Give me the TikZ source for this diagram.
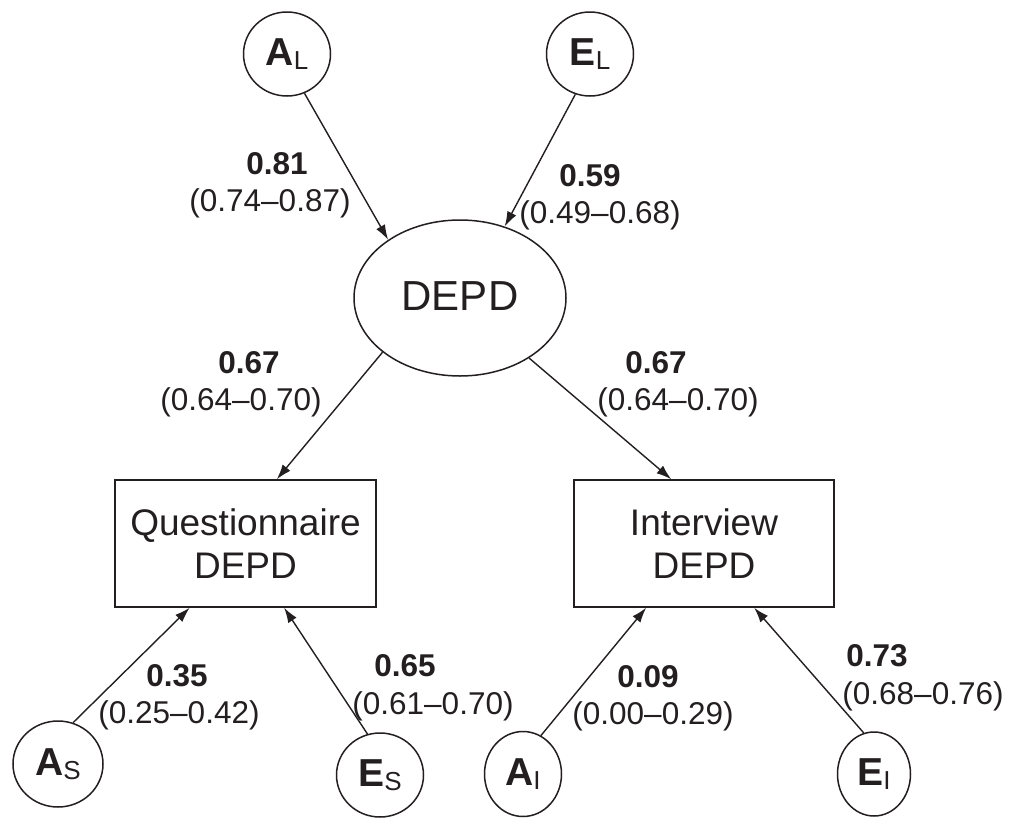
\documentclass[tikz,border=0pt]{standalone}
\usepackage{fontspec}
\setmainfont{Liberation Sans}
\usetikzlibrary{shapes.geometric,arrows.meta}
\definecolor{ink}{RGB}{35,31,32}
\newcommand\latvar[2]{\textbf{#1}\raisebox{-4.5pt}{\fontsize{26}{26}\selectfont #2}}
\begin{document}
\begin{tikzpicture}[x=1pt,y=-1pt,
  lat/.style={ellipse,draw=ink,text=ink,line width=1.5pt,inner sep=0pt,font=\fontsize{39}{40}\selectfont},
  obs/.style={rectangle,draw=ink,text=ink,line width=1.5pt,inner sep=0pt,align=center,minimum width=261pt,minimum height=127pt,font=\fontsize{37}{43}\selectfont},
  arr/.style={draw=ink,line width=1.4pt,-{Latex[length=15pt,width=10pt]}},
  coef/.style={anchor=base,inner sep=0pt,text=ink,font=\bfseries\fontsize{31.5}{36}\selectfont},
  ci/.style={anchor=base,inner sep=0pt,text=ink,font=\fontsize{31.5}{36}\selectfont}]
\useasboundingbox[fill=white] (0,0) rectangle (1015,817);

% latent nodes
\node[lat,minimum width=87pt,minimum height=84pt] (al) at (287,54) {\latvar{A}{L}};
\node[lat,minimum width=87pt,minimum height=84pt] (el) at (590,54) {\latvar{E}{L}};
\node[lat,minimum width=212pt,minimum height=156pt,font=\fontsize{42}{44}\selectfont] (depd) at (460,298) {\raisebox{3pt}{DEPD}};
\node[lat,minimum width=90pt,minimum height=86pt] (as) at (58,764) {\latvar{A}{S}};
\node[lat,minimum width=87pt,minimum height=84pt] (es) at (380,775) {\latvar{E}{S}};
\node[lat,minimum width=77pt,minimum height=85pt] (ai) at (523,774) {\latvar{A}{I}};
\node[lat,minimum width=73pt,minimum height=84pt] (ei) at (874,774) {\latvar{E}{I}};

% observed nodes
\node[obs] (q) at (245.5,543.5) {Questionnaire\\DEPD};
\node[obs,minimum width=260pt] (iv) at (704,543.5) {Interview\\DEPD};

% paths
\draw[arr] (al.-66) -- (depd.141.5);
\draw[arr] (el.-110) -- (depd.58.3);
\draw[arr] (depd.215.7) -- (q.64.7);
\draw[arr] (depd.-41) -- (iv.117.1);
\draw[arr] (as.70.3) -- (q.-131.7);
\draw[arr] (es.107.2) -- (q.-59.8);
\draw[arr] (ai.65.1) -- (iv.-132.9);
\draw[arr] (ei.104.7) -- (iv.-52.8);

% labels
\node[coef] (c1) at (277,174) {0.81};
\node[ci] (i1) at (270,211) {(0.74–0.87)};
\node[coef] (c2) at (590,186) {0.59};
\node[ci] (i2) at (600,223) {(0.49–0.68)};
\node[coef] (c3) at (249,373) {0.67};
\node[ci] (i3) at (241,410) {(0.64–0.70)};
\node[coef] (c4) at (656,373) {0.67};
\node[ci] (i4) at (678,410) {(0.64–0.70)};
\node[coef] (c5) at (177,686) {0.35};
\node[ci] (i5) at (179,723) {(0.25–0.42)};
\node[coef] (c6) at (405,676) {0.65};
\node[ci] (i6) at (433,714) {(0.61–0.70)};
\node[coef] (c7) at (648,687) {0.09};
\node[ci] (i7) at (653,724) {(0.00–0.29)};
\node[coef] (c8) at (877,666) {0.73};
\node[ci] (i8) at (923,704) {(0.68–0.76)};
\end{tikzpicture}
\end{document}
